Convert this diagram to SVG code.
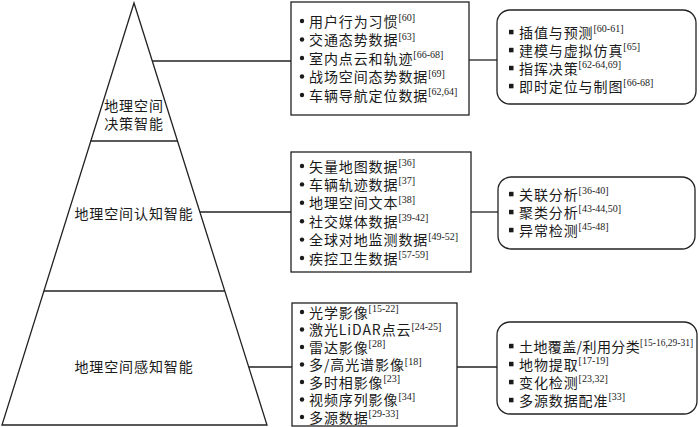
<svg xmlns="http://www.w3.org/2000/svg" width="700" height="427" viewBox="0 0 700 427">
<style>
.ln{fill:none;stroke:#222;stroke-width:1.3}
.bx{fill:#fff;stroke:#222;stroke-width:1.3}
.t{font-family:"Noto Sans CJK SC","Noto Sans",sans-serif;font-size:14px;letter-spacing:0.9px;fill:#1a1a1a}
.p{font-family:"Noto Sans CJK SC","Noto Sans",sans-serif;font-size:14px;letter-spacing:0.9px;fill:#1a1a1a;text-anchor:middle}
.s{font-family:"Liberation Serif",serif;font-size:10px;letter-spacing:0}
.d{fill:#1a1a1a}
</style>
<rect width="700" height="427" fill="#fff"/>
<g id="pyramid">
<polygon class="ln" points="134,3 2,425 267,425"/>
<line class="ln" x1="90.6" y1="141" x2="177.5" y2="141"/>
<line class="ln" x1="43.8" y1="291" x2="224.8" y2="291"/>
</g>
<g id="level-decision">
<text class="p" x="134" y="111">地理空间</text>
<text class="p" x="134" y="129">决策智能</text>
</g>
<g id="level-cognition">
<text class="p" x="134" y="219">地理空间认知智能</text>
</g>
<g id="level-perception">
<text class="p" x="134" y="372">地理空间感知智能</text>
</g>
<g id="connectors">
<line class="ln" x1="152.3" y1="61" x2="291" y2="61"/>
<line class="ln" x1="469" y1="60" x2="497" y2="60"/>
<line class="ln" x1="200" y1="212" x2="291" y2="212"/>
<line class="ln" x1="471" y1="212" x2="498" y2="212"/>
<line class="ln" x1="248.7" y1="367" x2="292" y2="367"/>
<line class="ln" x1="457" y1="367" x2="497" y2="367"/>
</g>
<g id="data-decision">
<rect class="bx" x="291" y="2" width="178" height="113"/>
<circle class="d" cx="302" cy="21" r="2.2"/>
<circle class="d" cx="302" cy="39.5" r="2.2"/>
<circle class="d" cx="302" cy="58" r="2.2"/>
<circle class="d" cx="302" cy="76.5" r="2.2"/>
<circle class="d" cx="302" cy="95" r="2.2"/>
<text class="t" x="309" y="26.5">用户行为习惯<tspan class="s" dy="-5.5">[60]</tspan></text>
<text class="t" x="309" y="45">交通态势数据<tspan class="s" dy="-5.5">[63]</tspan></text>
<text class="t" x="309" y="63.5">室内点云和轨迹<tspan class="s" dy="-5.5">[66-68]</tspan></text>
<text class="t" x="309" y="82">战场空间态势数据<tspan class="s" dy="-5.5">[69]</tspan></text>
<text class="t" x="309" y="100.5">车辆导航定位数据<tspan class="s" dy="-5.5">[62,64]</tspan></text>
</g>
<g id="task-decision">
<rect class="bx" x="497" y="10" width="199" height="94" rx="13"/>
<rect class="d" x="509" y="29.8" width="4.5" height="4.5"/>
<rect class="d" x="509" y="47.8" width="4.5" height="4.5"/>
<rect class="d" x="509" y="65.8" width="4.5" height="4.5"/>
<rect class="d" x="509" y="83.8" width="4.5" height="4.5"/>
<text class="t" x="519" y="37.5">插值与预测<tspan class="s" dy="-5.5">[60-61]</tspan></text>
<text class="t" x="519" y="55.5">建模与虚拟仿真<tspan class="s" dy="-5.5">[65]</tspan></text>
<text class="t" x="519" y="73.5">指挥决策<tspan class="s" dy="-5.5">[62-64,69]</tspan></text>
<text class="t" x="519" y="91.5">即时定位与制图<tspan class="s" dy="-5.5">[66-68]</tspan></text>
</g>
<g id="data-cognition">
<rect class="bx" x="291" y="152" width="180" height="120"/>
<circle class="d" cx="302" cy="166" r="2.2"/>
<circle class="d" cx="302" cy="184.4" r="2.2"/>
<circle class="d" cx="302" cy="202.8" r="2.2"/>
<circle class="d" cx="302" cy="221.2" r="2.2"/>
<circle class="d" cx="302" cy="239.6" r="2.2"/>
<circle class="d" cx="302" cy="258" r="2.2"/>
<text class="t" x="309" y="171.5">矢量地图数据<tspan class="s" dy="-5.5">[36]</tspan></text>
<text class="t" x="309" y="189.9">车辆轨迹数据<tspan class="s" dy="-5.5">[37]</tspan></text>
<text class="t" x="309" y="208.3">地理空间文本<tspan class="s" dy="-5.5">[38]</tspan></text>
<text class="t" x="309" y="226.7">社交媒体数据<tspan class="s" dy="-5.5">[39-42]</tspan></text>
<text class="t" x="309" y="245.1">全球对地监测数据<tspan class="s" dy="-5.5">[49-52]</tspan></text>
<text class="t" x="309" y="263.5">疾控卫生数据<tspan class="s" dy="-5.5">[57-59]</tspan></text>
</g>
<g id="task-cognition">
<rect class="bx" x="498" y="177" width="197" height="72" rx="13"/>
<rect class="d" x="509" y="191.8" width="4.5" height="4.5"/>
<rect class="d" x="509" y="209.8" width="4.5" height="4.5"/>
<rect class="d" x="509" y="227.8" width="4.5" height="4.5"/>
<text class="t" x="519" y="199.5">关联分析<tspan class="s" dy="-5.5">[36-40]</tspan></text>
<text class="t" x="519" y="217.5">聚类分析<tspan class="s" dy="-5.5">[43-44,50]</tspan></text>
<text class="t" x="519" y="235.5">异常检测<tspan class="s" dy="-5.5">[45-48]</tspan></text>
</g>
<g id="data-perception">
<rect class="bx" x="292" y="303" width="165" height="123"/>
<circle class="d" cx="302" cy="312" r="2.2"/>
<circle class="d" cx="302" cy="329.5" r="2.2"/>
<circle class="d" cx="302" cy="347" r="2.2"/>
<circle class="d" cx="302" cy="364.5" r="2.2"/>
<circle class="d" cx="302" cy="382" r="2.2"/>
<circle class="d" cx="302" cy="399.5" r="2.2"/>
<circle class="d" cx="302" cy="417" r="2.2"/>
<text class="t" x="309" y="317.5">光学影像<tspan class="s" dy="-5.5">[15-22]</tspan></text>
<text class="t" x="309" y="335">激光LiDAR点云<tspan class="s" dy="-5.5">[24-25]</tspan></text>
<text class="t" x="309" y="352.5">雷达影像<tspan class="s" dy="-5.5">[28]</tspan></text>
<text class="t" x="309" y="370">多/高光谱影像<tspan class="s" dy="-5.5">[18]</tspan></text>
<text class="t" x="309" y="387.5">多时相影像<tspan class="s" dy="-5.5">[23]</tspan></text>
<text class="t" x="309" y="405">视频序列影像<tspan class="s" dy="-5.5">[34]</tspan></text>
<text class="t" x="309" y="422.5">多源数据<tspan class="s" dy="-5.5">[29-33]</tspan></text>
</g>
<g id="task-perception">
<rect class="bx" x="497" y="322" width="200" height="92" rx="13"/>
<rect class="d" x="509" y="343.8" width="4.5" height="4.5"/>
<rect class="d" x="509" y="361.8" width="4.5" height="4.5"/>
<rect class="d" x="509" y="379.8" width="4.5" height="4.5"/>
<rect class="d" x="509" y="397.8" width="4.5" height="4.5"/>
<text class="t" x="519" y="351.5" style="letter-spacing:0.4px">土地覆盖/利用分类<tspan class="s" dy="-5.5" style="font-size:9.5px">[15-16,29-31]</tspan></text>
<text class="t" x="519" y="369.5">地物提取<tspan class="s" dy="-5.5">[17-19]</tspan></text>
<text class="t" x="519" y="387.5">变化检测<tspan class="s" dy="-5.5">[23,32]</tspan></text>
<text class="t" x="519" y="405.5">多源数据配准<tspan class="s" dy="-5.5">[33]</tspan></text>
</g>
</svg>
